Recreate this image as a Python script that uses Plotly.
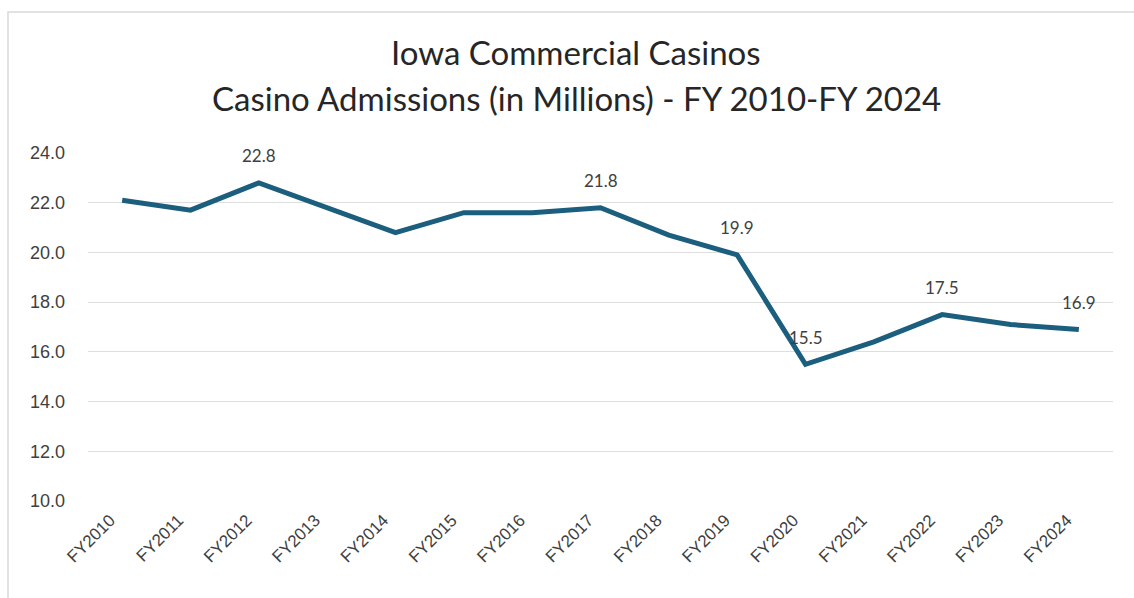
import plotly.graph_objects as go

years = ["FY2010", "FY2011", "FY2012", "FY2013", "FY2014", "FY2015", "FY2016", "FY2017",
         "FY2018", "FY2019", "FY2020", "FY2021", "FY2022", "FY2023", "FY2024"]
admissions = [22.1, 21.7, 22.8, 21.8, 20.8, 21.6, 21.6, 21.8, 20.7, 19.9, 15.5, 16.4, 17.5, 17.1, 16.9]
labeled = ["FY2012", "FY2017", "FY2019", "FY2020", "FY2022", "FY2024"]
y_ticks = [10, 12, 14, 16, 18, 20, 22, 24]
title_lines = ["Iowa Commercial Casinos", "Casino Admissions (in Millions) - FY 2010-FY 2024"]

W, H = 1134, 598
L, R, T, B = 88, 21, 153, 97
pw, ph = W - L - R, H - T - B

fig = go.Figure()
fig.add_trace(go.Scatter(
    x=years, y=admissions, mode="lines",
    line=dict(color="#1B5E7E", width=5),
    cliponaxis=False, showlegend=False, hoverinfo="x+y",
))

for yr, v in zip(years, admissions):
    if yr in labeled:
        fig.add_annotation(x=yr, y=v, text=f"{v:.1f}", showarrow=False, yshift=27,
                           font=dict(family="Lato, Liberation Sans, sans-serif", size=17, color="#404040"))

title_y = [52, 98]
for txt, ty in zip(title_lines, title_y):
    fig.add_annotation(xref="paper", yref="paper", x=(576 - L) / pw, y=(H - B - ty) / ph,
                       text=txt, showarrow=False, xanchor="center", yanchor="middle",
                       font=dict(family="Lato, Liberation Sans, sans-serif", size=33, color="#262626"))

fig.add_shape(type="rect", xref="paper", yref="paper",
              x0=(8 - L) / pw, x1=(W + 5 - L) / pw,
              y0=(H - B - (H + 5)) / ph, y1=(H - B - 12) / ph,
              line=dict(color="#D9D9D9", width=1.5), fillcolor="rgba(0,0,0,0)", layer="below")

fig.update_layout(
    width=W, height=H,
    margin=dict(l=L, r=R, t=T, b=B),
    paper_bgcolor="white", plot_bgcolor="white",
    xaxis=dict(
        type="category", tickangle=-45, showgrid=False, showline=False, ticks="",
        tickfont=dict(family="Liberation Sans, sans-serif", size=17, color="#404040"),
        range=[-0.5, len(years) - 0.5], ticklabelshift=-12, ticklabelstandoff=5,
    ),
    yaxis=dict(
        range=[10, 24], tickvals=y_ticks, ticktext=[f"{v:.1f}" for v in y_ticks],
        showgrid=True, gridcolor="#DEDEDE", gridwidth=1, zeroline=False, showline=False,
        tickfont=dict(family="Liberation Sans, sans-serif", size=18, color="#404040"),
        ticks="", ticklabelstandoff=22,
    ),
)

fig.write_html("out.html")
